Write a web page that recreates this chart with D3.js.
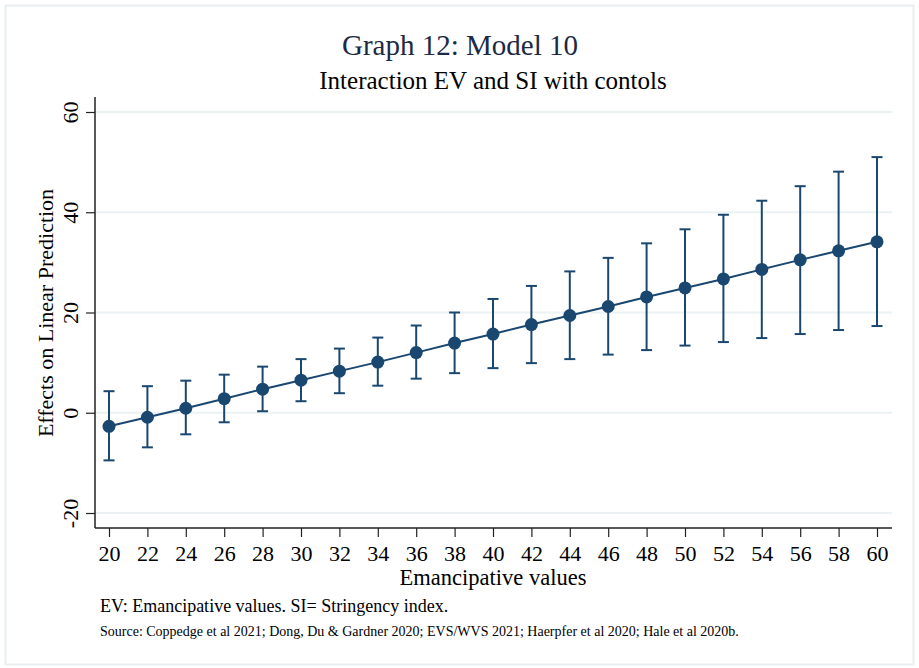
<!DOCTYPE html>
<html>
<head>
<meta charset="utf-8">
<script src="https://cdn.jsdelivr.net/npm/d3@7"></script>
<style>
	body { margin: 0; background: #fff; }
	svg text { font-family: "Liberation Serif", "Times New Roman", serif; }
</style>
</head>
<body>
<div id="chart"></div>
<script>
// values
const evValues = [20, 22, 24, 26, 28, 30, 32, 34, 36, 38, 40, 42, 44, 46, 48, 50, 52, 54, 56, 58, 60];
const effects = [-2.7, -0.9, 0.9, 2.8, 4.7, 6.5, 8.3, 10.1, 12.0, 13.9, 15.7, 17.6, 19.4, 21.2, 23.1, 24.9, 26.7, 28.6, 30.5, 32.3, 34.1];
const upperCI = [4.3, 5.3, 6.4, 7.6, 9.2, 10.7, 12.8, 15.0, 17.4, 20.0, 22.7, 25.3, 28.2, 30.9, 33.8, 36.6, 39.5, 42.3, 45.2, 48.1, 51.0];
const lowerCI = [-9.5, -6.9, -4.3, -1.9, 0.3, 2.3, 3.9, 5.4, 6.8, 7.9, 8.9, 9.9, 10.7, 11.6, 12.5, 13.4, 14.1, 14.9, 15.7, 16.5, 17.3];
const yTicks = [-20, 0, 20, 40, 60];

const width = 919;
const height = 668;
const navy = "#1a476f";

const svg = d3.select("#chart")
	.append("svg")
	.attr("width", width)
	.attr("height", height);

// outer graph region frame
svg.append("rect")
	.attr("x", 5.5)
	.attr("y", 5.5)
	.attr("width", 908)
	.attr("height", 659)
	.attr("fill", "#fff")
	.attr("stroke", "#e9eff1")
	.attr("stroke-width", 2);

const x = d3.scaleLinear().domain([20, 60]).range([109, 877]);
const y = d3.scaleLinear().domain([-20, 60]).range([513, 112]);

const plotLeft = 95;
const plotRight = 892;
const plotTop = 97;
const plotBottom = 528;

// grid lines
svg.append("g")
	.selectAll("line")
	.data(yTicks)
	.enter()
	.append("line")
	.attr("x1", plotLeft)
	.attr("x2", plotRight)
	.attr("y1", (d) => y(d))
	.attr("y2", (d) => y(d))
	.attr("stroke", "#eaf2f3")
	.attr("stroke-width", 2);

// y axis
const yAxis = svg.append("g")
	.attr("transform", "translate(" + plotLeft + ",0)")
	.call(d3.axisLeft(y).tickValues(yTicks).tickSize(9).tickPadding(6).tickFormat((d) => String(d)));
yAxis.select(".domain").attr("d", "M0," + plotTop + "V" + plotBottom).attr("stroke", "#222").attr("stroke-width", 1.5);
yAxis.selectAll(".tick line").attr("stroke", "#222").attr("stroke-width", 1.2);
yAxis.selectAll(".tick text")
	.attr("font-size", 22)
	.attr("fill", "#000")
	.attr("text-anchor", "middle")
	.attr("x", 0)
	.attr("dy", 0)
	.attr("transform", "translate(-17,0) rotate(-90)");

// x axis
const xAxis = svg.append("g")
	.attr("transform", "translate(0," + plotBottom + ")")
	.call(d3.axisBottom(x).tickValues(evValues).tickSize(9).tickPadding(8).tickFormat((d) => String(d)));
xAxis.select(".domain").attr("d", "M" + plotLeft + ",0H" + plotRight).attr("stroke", "#222").attr("stroke-width", 1.5);
xAxis.selectAll(".tick line").attr("stroke", "#222").attr("stroke-width", 1.2);
xAxis.selectAll(".tick text").attr("font-size", 22).attr("fill", "#000");

// error bars
const bars = svg.append("g")
	.selectAll("g")
	.data(evValues)
	.enter()
	.append("g");

bars.append("line")
	.attr("x1", (d) => x(d))
	.attr("x2", (d) => x(d))
	.attr("y1", (d, i) => y(upperCI[i]))
	.attr("y2", (d, i) => y(lowerCI[i]))
	.attr("stroke", navy)
	.attr("stroke-width", 2);

bars.append("line")
	.attr("x1", (d) => x(d) - 5.5)
	.attr("x2", (d) => x(d) + 5.5)
	.attr("y1", (d, i) => y(upperCI[i]))
	.attr("y2", (d, i) => y(upperCI[i]))
	.attr("stroke", navy)
	.attr("stroke-width", 2);

bars.append("line")
	.attr("x1", (d) => x(d) - 5.5)
	.attr("x2", (d) => x(d) + 5.5)
	.attr("y1", (d, i) => y(lowerCI[i]))
	.attr("y2", (d, i) => y(lowerCI[i]))
	.attr("stroke", navy)
	.attr("stroke-width", 2);

// connecting line
svg.append("path")
	.datum(evValues)
	.attr("fill", "none")
	.attr("stroke", navy)
	.attr("stroke-width", 2)
	.attr("d", d3.line()
		.x((d) => x(d))
		.y((d, i) => y(effects[i])));

// markers
svg.append("g")
	.selectAll("circle")
	.data(evValues)
	.enter()
	.append("circle")
	.attr("cx", (d) => x(d))
	.attr("cy", (d, i) => y(effects[i]))
	.attr("r", 6.5)
	.attr("fill", navy);

// titles
svg.append("text")
	.attr("x", 460)
	.attr("y", 55)
	.attr("text-anchor", "middle")
	.attr("font-size", 29)
	.attr("fill", "#1c2a44")
	.text("Graph 12: Model 10");

svg.append("text")
	.attr("x", 493)
	.attr("y", 89)
	.attr("text-anchor", "middle")
	.attr("font-size", 25)
	.attr("fill", "#000")
	.text("Interaction EV and SI with contols");

svg.append("text")
	.attr("transform", "translate(53,313) rotate(-90)")
	.attr("text-anchor", "middle")
	.attr("font-size", 22)
	.attr("fill", "#000")
	.text("Effects on Linear Prediction");

svg.append("text")
	.attr("x", 493)
	.attr("y", 585)
	.attr("text-anchor", "middle")
	.attr("font-size", 22.5)
	.attr("fill", "#000")
	.text("Emancipative values");

// notes
svg.append("text")
	.attr("x", 100)
	.attr("y", 612)
	.attr("font-size", 18)
	.attr("fill", "#000")
	.text("EV: Emancipative values. SI= Stringency index.");

svg.append("text")
	.attr("x", 100)
	.attr("y", 636)
	.attr("font-size", 14)
	.attr("fill", "#000")
	.text("Source: Coppedge et al 2021; Dong, Du & Gardner 2020; EVS/WVS 2021; Haerpfer et al 2020; Hale et al 2020b.");
</script>
</body>
</html>
